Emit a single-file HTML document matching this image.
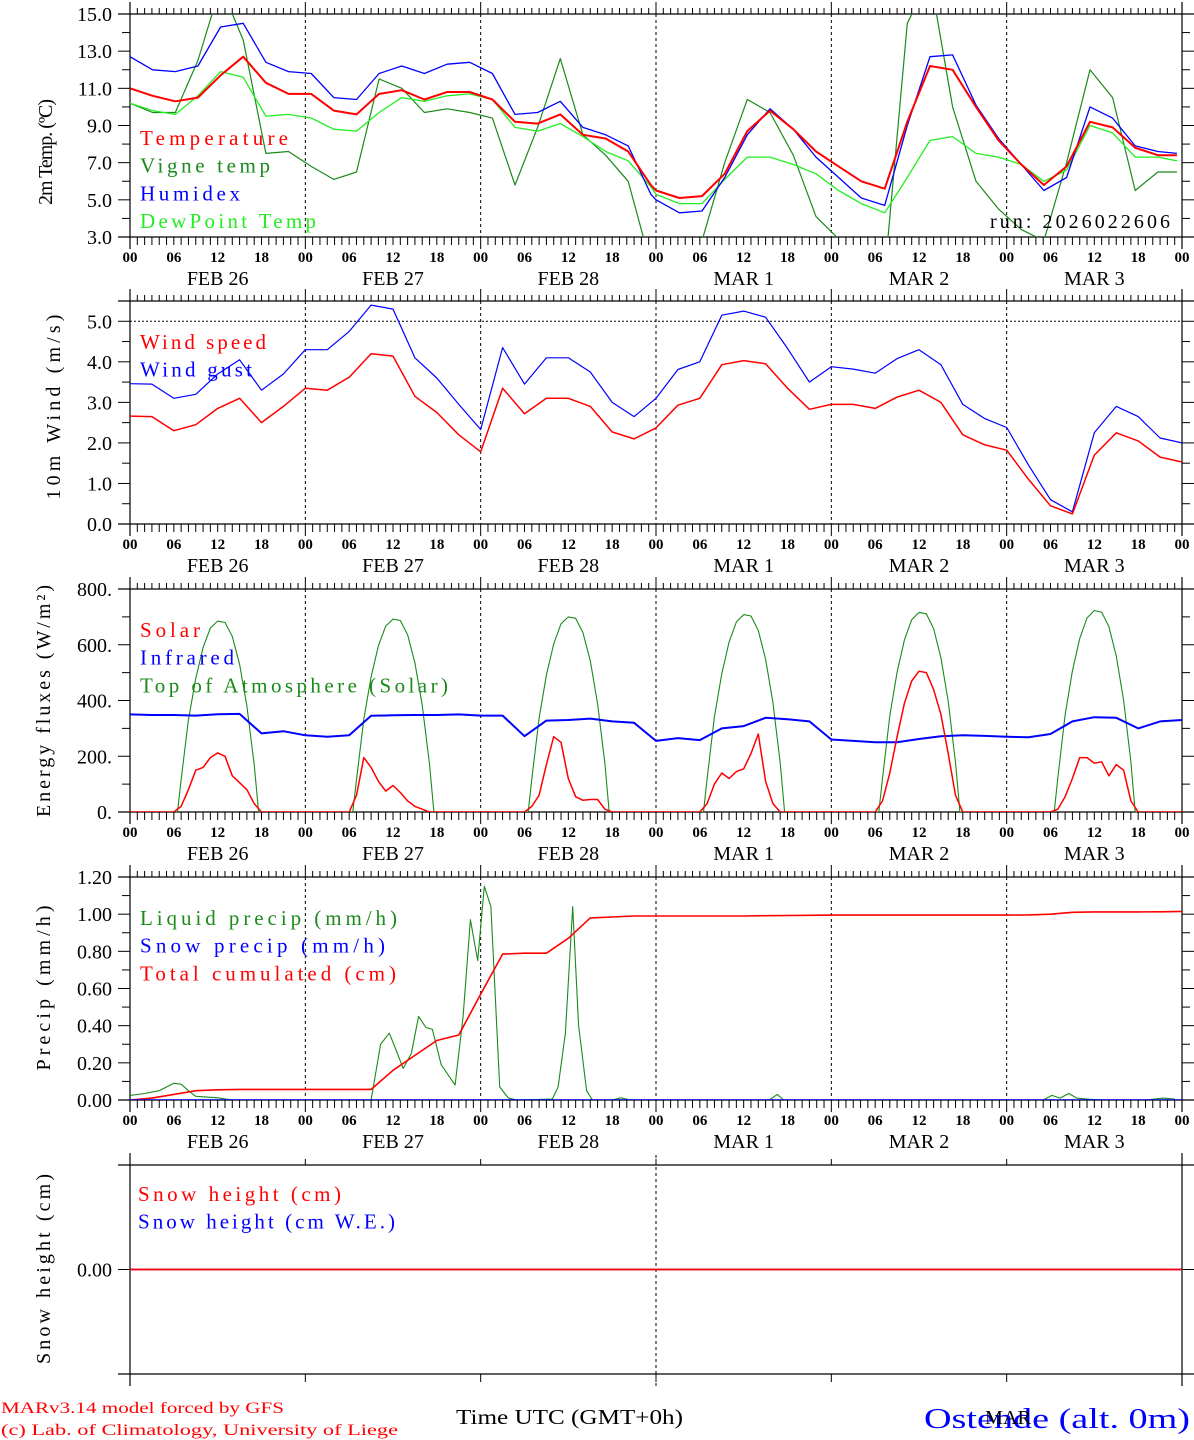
<!DOCTYPE html>
<html><head><meta charset="utf-8"><title>MAR forecast Ostende</title>
<style>html,body{margin:0;padding:0;background:#fff}svg{display:block}</style></head>
<body>
<svg id="chart" xmlns="http://www.w3.org/2000/svg" width="1194" height="1440" viewBox="0 0 1194 1440"></svg>
<script>
// ---------- DATA ----------
const dayLabels = ["FEB 26","FEB 27","FEB 28","MAR  1","MAR  2","MAR  3"];
const hourLabels = ["00","06","12","18"];
// temperature panel (hours, values)
const tempTimes = [0,3.1,6.2,9.3,12.4,15.5,18.6,21.7,24.8,27.9,31.0,34.1,37.2,40.3,43.4,46.5,49.6,52.7,55.8,58.9,62.0,65.1,68.2,71.3,72.0,75.2,78.3,81.4,84.5,87.6,90.8,93.9,97.0,100.1,103.3,106.4,109.5,112.6,115.8,118.9,122.0,125.1,128.2,131.4,134.5,137.6,140.7,143.3];
const tempRed = [11.0,10.6,10.3,10.5,11.7,12.7,11.3,10.7,10.7,9.8,9.6,10.7,10.9,10.4,10.8,10.8,10.4,9.2,9.1,9.6,8.5,8.3,7.6,5.8,5.5,5.1,5.2,6.4,8.7,9.8,8.8,7.6,6.8,6.0,5.6,9.2,12.2,12.0,10.0,8.2,6.9,5.8,6.8,9.2,8.9,7.8,7.4,7.4];
const tempVigne = [10.2,9.7,9.7,12.5,16.5,13.6,7.5,7.6,6.8,6.1,6.5,11.5,11.0,9.7,9.9,9.7,9.4,5.8,8.9,12.6,8.5,7.4,6.0,1.5,1.0,2.5,2.8,7.0,10.4,9.7,7.4,4.1,2.9,1.5,1.0,14.5,17.0,10.0,6.0,4.5,3.4,2.8,7.0,12.0,10.5,5.5,6.5,6.5];
const tempHumidex = [12.7,12.0,11.9,12.2,14.3,14.5,12.4,11.9,11.8,10.5,10.4,11.8,12.2,11.8,12.3,12.4,11.8,9.6,9.7,10.3,8.9,8.5,7.9,5.3,5.0,4.3,4.4,6.2,8.5,9.9,8.8,7.3,6.2,5.1,4.7,9.0,12.7,12.8,10.1,8.3,6.9,5.5,6.2,10.0,9.4,7.9,7.6,7.5];
const tempDew = [10.2,9.8,9.6,10.6,11.9,11.6,9.5,9.6,9.4,8.8,8.7,9.7,10.5,10.3,10.6,10.7,10.4,8.9,8.7,9.1,8.4,7.6,7.1,5.7,5.3,4.8,4.8,6.1,7.3,7.3,6.9,6.4,5.5,4.8,4.3,6.2,8.2,8.4,7.5,7.3,6.9,6.0,6.6,9.0,8.6,7.3,7.3,7.1];
const tempTicks = ["3.0","5.0","7.0","9.0","11.0","13.0","15.0"];
// wind panel (3-hourly from 00)
const windTimes = [0,3,6,9,12,15,18,21,24,27,30,33,36,39,42,45,48,51,54,57,60,63,66,69,72,75,78,81,84,87,90,93,96,99,102,105,108,111,114,117,120,123,126,129,132,135,138,141,144];
const windSpeed = [2.66,2.65,2.3,2.45,2.85,3.1,2.5,2.9,3.35,3.3,3.62,4.2,4.14,3.15,2.75,2.2,1.78,3.35,2.72,3.1,3.1,2.9,2.27,2.1,2.37,2.93,3.1,3.93,4.03,3.95,3.35,2.83,2.95,2.95,2.85,3.13,3.3,3.0,2.2,1.95,1.82,1.1,0.45,0.25,1.7,2.25,2.05,1.65,1.53];
const windGust = [3.46,3.45,3.1,3.2,3.7,4.05,3.3,3.7,4.3,4.3,4.75,5.4,5.3,4.1,3.6,2.95,2.33,4.35,3.45,4.1,4.1,3.75,3.0,2.65,3.1,3.81,4.0,5.15,5.25,5.1,4.33,3.5,3.88,3.82,3.72,4.08,4.3,3.93,2.95,2.6,2.38,1.45,0.6,0.3,2.25,2.9,2.65,2.12,2.0];
const windTicks = ["0.0","1.0","2.0","3.0","4.0","5.0"];
// energy panel
const solarHours = [0,6,7,8,9,10,11,12,13,14,15,16,17,18,30,31,32,33,34,35,36,37,38,39,40,41,54,55,56,57,58,59,60,61,62,63,64,65,66,78,79,80,81,82,83,84,85,86,87,88,89,102,103,104,105,106,107,108,109,110,111,112,113,114,126,127,128,129,130,131,132,133,134,135,136,137,138,144];
const solarVals = [0,0,20,80,150,160,195,212,200,130,105,80,30,0,0,60,195,160,110,75,95,70,40,20,10,0,0,20,60,170,270,250,120,55,42,45,45,10,0,0,30,100,140,120,145,155,210,280,110,30,0,0,40,140,270,390,470,505,500,440,350,210,60,0,0,10,55,120,195,195,175,180,130,170,150,40,0,0];
const toaHours = [0,6.5,7,8,9,10,11,12,13,14,15,16,17,17.6,30.5,31,32,33,34,35,36,37,38,39,40,41,41.6,54.5,55,56,57,58,59,60,61,62,63,64,65,65.6,78.5,79,80,81,82,83,84,85,86,87,88,89,89.6,102.5,103,104,105,106,107,108,109,110,111,112,113,113.6,126.5,127,128,129,130,131,132,133,134,135,136,137,137.6,144];
const toaVals = [0,0,115,330,480,590,660,685,680,630,530,380,170,0,0,116,333,485,596,667,692,687,636,535,384,172,0,0,118,337,491,603,675,700,695,644,542,388,174,0,0,119,341,496,610,682,708,703,651,548,393,176,0,0,120,345,502,617,690,716,711,658,554,397,178,0,0,121,348,506,622,696,723,717,665,559,401,179,0,0];
const infrared = [350,348,348,346,351,352,282,290,275,270,275,345,347,348,348,350,346,346,272,328,330,335,325,320,255,265,258,300,308,338,333,325,260,255,250,250,262,272,275,273,270,268,280,325,340,338,300,325,330];
const energyTicks = ["0.","200.","400.","600.","800."];
// precip panel
const cumulated = [0,0.01,0.03,0.05,0.055,0.057,0.057,0.057,0.057,0.057,0.057,0.057,0.16,0.24,0.32,0.35,0.57,0.785,0.79,0.79,0.87,0.98,0.985,0.99,0.99,0.99,0.99,0.99,0.99,0.992,0.993,0.994,0.995,0.995,0.995,0.995,0.995,0.995,0.995,0.995,0.995,0.996,1.0,1.01,1.012,1.012,1.012,1.013,1.015];
const snowPrecip = [0,0,0,0,0,0,0,0,0,0,0,0,0,0,0,0,0,0,0,0,0,0,0,0,0,0,0,0,0,0,0,0,0,0,0,0,0,0,0,0,0,0,0,0,0,0,0,0,0];
const liqHours = [0,2,4,6,7,8,9,12,14,33,34.3,35.5,36.6,37.4,38.5,39.5,40.5,41.4,42.6,44.5,45.6,46.6,47.6,48.5,49.4,50.6,51.8,53,57.8,58.6,59.6,60.6,61.4,62.5,63.3,66,67.2,68.5,87.5,88.6,89.5,125,126.2,127.3,128.5,129.6,131,133,139,141.4,143];
const liqVals = [0.025,0.035,0.05,0.09,0.085,0.05,0.02,0.012,0,0,0.30,0.36,0.25,0.17,0.25,0.45,0.39,0.38,0.19,0.08,0.45,0.97,0.75,1.15,1.04,0.07,0.01,0,0.005,0.07,0.36,1.04,0.4,0.05,0,0,0.012,0,0,0.03,0,0,0.025,0.01,0.035,0.01,0.005,0,0,0.01,0.005];
const precipTicks = ["0.00","0.20","0.40","0.60","0.80","1.00","1.20"];
// snow panel
const snowHeight = [0,0,0,0,0,0,0,0,0,0,0,0,0,0,0,0,0,0,0,0,0,0,0,0,0,0,0,0,0,0,0,0,0,0,0,0,0,0,0,0,0,0,0,0,0,0,0,0,0];
const snowWE = [0,0,0,0,0,0,0,0,0,0,0,0,0,0,0,0,0,0,0,0,0,0,0,0,0,0,0,0,0,0,0,0,0,0,0,0,0,0,0,0,0,0,0,0,0,0,0,0,0];

// ---------- DRAW ----------
const NS = "http://www.w3.org/2000/svg";
const svg = document.getElementById("chart");
const X0 = 130, X1 = 1182, H = 144;
function xs(h){ return X0 + h*(X1-X0)/H; }
function mk(tag, attrs, parent){
  const e = document.createElementNS(NS, tag);
  for (const k in attrs) e.setAttribute(k, attrs[k]);
  (parent||svg).appendChild(e);
  return e;
}
const SERIF = '"Liberation Serif", serif';
const defs = mk("defs", {});

function panel(name, top, bottom, vmin, vmax, opts){
  const g = mk("g", {});
  
  
  const ys = v => bottom - (v - vmin)*(bottom-top)/(vmax-vmin);
  // clip
  const cp = mk("clipPath", {id: "clip-"+name}, defs);
  mk("rect", {x: X0, y: top, width: X1-X0, height: bottom-top}, cp);
  // day dashed lines
  for (let d = 1; d < 6; d++){
    if (opts.snow && d !== 3) continue;
    const l = mk("line", {x1: xs(d*24), x2: xs(d*24), y1: opts.snow? top-10: top, y2: opts.snow? bottom+12 : bottom, stroke:"#000", "stroke-width":1, "stroke-dasharray":"3,3"}, g);
    
    
  }
  // frame
  const fr = mk("g", {stroke:"#000", "stroke-width":1.2, fill:"none"}, g);
  
  
  mk("line", {x1:118, x2:1194, y1:top, y2:top}, fr);
  mk("line", {x1:118, x2:1194, y1:bottom, y2:bottom}, fr);
  mk("line", {x1:X0, x2:X0, y1:top-12, y2:bottom+12}, fr);
  mk("line", {x1:X1, x2:X1, y1:top-12, y2:bottom+12}, fr);
  // hour ticks
  const tk = mk("g", {stroke:"#000", "stroke-width":1}, g);
  
  
  for (let h = 0; h <= H; h++){
    const x = xs(h);
    if (opts.snow){
      if (h % 24 === 0){ mk("line", {x1:x,x2:x,y1:top-6,y2:top}, tk); mk("line", {x1:x,x2:x,y1:bottom,y2:bottom+8}, tk); }
      continue;
    }
    const big = h % 24 === 0;
    mk("line", {x1:x, x2:x, y1: top - (big?12:6), y2: top}, tk);
    mk("line", {x1:x, x2:x, y1: bottom, y2: bottom + (big?12:8)}, tk);
  }
  // x labels
  if (!opts.snow){
    for (let d = 0; d < 6; d++){
      for (let k = 0; k < 4; k++){
        const t = mk("text", {x: xs(d*24+k*6), y: bottom+25, "font-family":SERIF, "font-size":15, "font-weight":"bold", "text-anchor":"middle"}, g);
        t.textContent = hourLabels[k];
        
        
      }
      const t = mk("text", {x: xs(d*24+12), y: bottom+48, "font-family":SERIF, "font-size":20, "text-anchor":"middle", "xml:space":"preserve"}, g);
      t.textContent = dayLabels[d];
      
      
    }
    const t = mk("text", {x: xs(144), y: bottom+25, "font-family":SERIF, "font-size":15, "font-weight":"bold", "text-anchor":"middle"}, g);
    t.textContent = "00";
    
    
  }
  // y ticks
  const yt = mk("g", {stroke:"#000", "stroke-width":1}, g);
  
  
  opts.ticks.forEach((lab) => {
    const v = parseFloat(lab), y = ys(v);
    mk("line", {x1:118, x2:X0, y1:y, y2:y}, yt);
    mk("line", {x1:X1, x2:1194, y1:y, y2:y}, yt);
    const t = mk("text", {x: 112, y: y+7, "font-family":SERIF, "font-size":20, "text-anchor":"end", stroke:"none"}, g);
    t.textContent = lab;
    
    
  });
  if (opts.minor){
    for (let v = vmin + opts.minor; v < vmax; v += opts.minor*2){
      const y = ys(v);
      mk("line", {x1:122, x2:X0, y1:y, y2:y}, yt);
      mk("line", {x1:X1, x2:1190, y1:y, y2:y}, yt);
    }
  }
  // y title
  const tt = mk("text", {x:0, y:0, transform:`translate(${opts.tx},${opts.tc}) rotate(-90)`, "font-family":SERIF, "font-size":20, "text-anchor":"middle", textLength: opts.tl, lengthAdjust:"spacing"}, g);
  tt.textContent = opts.title;
  
  
  return {g, ys};
}

function series(p, name, times, vals, color, w){
  const pts = times.map((h,i) => xs(h).toFixed(1) + "," + p.ys(vals[i]).toFixed(1)).join(" ");
  const pl = mk("polyline", {points: pts, fill:"none", stroke: color, "stroke-width": w, "stroke-linejoin":"round", "clip-path": `url(#clip-${p.name})`}, p.g);
  
  
}
function legend(p, items, x, y0){
  items.forEach((it, i) => {
    const t = mk("text", {x: x, y: y0 + i*27.7, "font-family":SERIF, "font-size":21, fill: it[1], textLength: it[2], lengthAdjust:"spacing"}, p.g);
    t.textContent = it[0];
    
    
  });
}
const RED="#ff0000", BLUE="#0000ff", DG="#1a8a1a", LG="#22ee22";

// Temperature
let p = panel("temp", 14, 237, 3, 15, {ticks: tempTicks, minor:1, title:"2m Temp. (ºC)", tx:52, tc:152, tl:106});
p.name="temp";
series(p, "vigne-temp-line", tempTimes, tempVigne, DG, 1.2);
series(p, "dewpoint-line", tempTimes, tempDew, LG, 1.3);
series(p, "humidex-line", tempTimes, tempHumidex, BLUE, 1.3);
series(p, "temperature-line", tempTimes, tempRed, RED, 2);
legend(p, [["Temperature",RED,148],["Vigne temp",DG,130],["Humidex",BLUE,100],["DewPoint Temp",LG,176]], 140, 145);
let rt = mk("text", {x:990, y:228, "font-family":SERIF, "font-size":20, textLength:180, lengthAdjust:"spacing"}, p.g);
rt.textContent = "run: 2026022606";



// Wind
p = panel("wind", 301, 524, 0, 5.5, {ticks: windTicks, minor:0.5, title:"10m Wind (m/s)", tx:60, tc:407, tl:185});
p.name="wind";
let ref = mk("line", {x1:X0, x2:X1, y1:p.ys(5), y2:p.ys(5), stroke:"#000", "stroke-width":1, "stroke-dasharray":"2,2"}, p.g);


series(p, "wind-gust-line", windTimes, windGust, BLUE, 1.2);
series(p, "wind-speed-line", windTimes, windSpeed, RED, 1.5);
legend(p, [["Wind speed",RED,126],["Wind gust",BLUE,112]], 140, 349);

// Energy
p = panel("energy", 589, 812, 0, 800, {ticks: energyTicks, minor:100, title:"Energy fluxes (W/m²)", tx:50, tc:701, tl:232});
p.name="energy";
series(p, "toa-solar-line", toaHours, toaVals, DG, 1.1);
series(p, "infrared-line", windTimes, infrared, BLUE, 2);
series(p, "solar-line", solarHours, solarVals, RED, 1.5);
legend(p, [["Solar",RED,60],["Infrared",BLUE,94],["Top of Atmosphere (Solar)",DG,308]], 140, 637);

// Precip
p = panel("precip", 877, 1100, 0, 1.2, {ticks: precipTicks, minor:0.1, title:"Precip (mm/h)", tx:50, tc:988, tl:165});
p.name="precip";
series(p, "liquid-precip-line", liqHours, liqVals, DG, 1.1);
series(p, "total-cumulated-line", windTimes, cumulated, RED, 1.6);
series(p, "snow-precip-line", windTimes, snowPrecip, BLUE, 1.6);
legend(p, [["Liquid precip (mm/h)",DG,257],["Snow precip (mm/h)",BLUE,245],["Total cumulated (cm)",RED,256]], 140, 925);

// Snow
p = panel("snow", 1165, 1374, -1, 1, {snow:true, ticks:["0.00"], minor:0, title:"Snow height (cm)", tx:50, tc:1269, tl:190});
p.name="snow";
series(p, "snow-we-line", windTimes, snowWE, BLUE, 1.5);
series(p, "snow-height-line", windTimes, snowHeight, RED, 1.8);
legend(p, [["Snow height (cm)",RED,203],["Snow height (cm W.E.)",BLUE,257]], 138, 1201);

// footer
function ftxt(txt, x, y, size, color, len, name){
  const t = mk("text", {x:x, y:y, "font-family":SERIF, "font-size":size, fill:color, textLength:len, lengthAdjust:"spacingAndGlyphs"});
  t.textContent = txt;
  
  
}
ftxt("MARv3.14 model forced by GFS", 1, 1413, 16, RED, 283, "model-credit");
ftxt("(c) Lab. of Climatology, University of Liege", 1, 1435, 16, RED, 397, "copyright-credit");
ftxt("Time UTC (GMT+0h)", 456, 1424, 21, "#000", 227, "x-axis-title");
ftxt("Ostende (alt. 0m)", 924, 1428, 28, BLUE, 266, "station-title");
ftxt("MAR", 985, 1424, 20, "#000", 46, "month-label");
</script>
</body></html>
